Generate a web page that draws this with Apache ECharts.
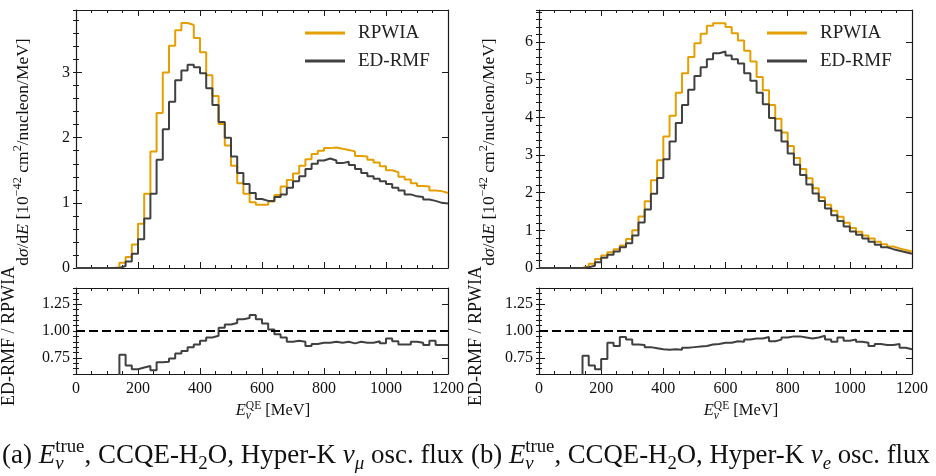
<!DOCTYPE html>
<html><head><meta charset="utf-8">
<script src="https://cdn.jsdelivr.net/npm/echarts@6/dist/echarts.min.js"></script>
<style>html,body{margin:0;padding:0;background:#fff}#c{width:936px;height:476px}</style>
</head><body><div id="c"></div>
<script>
// ---------------- data (bin lower edges in MeV, 20 MeV bins) ----------------
const binEdges = [0,20,40,60,80,100,120,140,160,180,200,220,240,260,280,300,320,340,360,380,400,420,440,460,480,500,520,540,560,580,600,620,640,660,680,700,720,740,760,780,800,820,840,860,880,900,920,940,960,980,1000,1020,1040,1060,1080,1100,1120,1140,1160,1180,1200];
// (a) Hyper-K nu_mu osc. flux
const numuRPWIA = [0,0,0,0,0,0,0.01,0.08,0.17,0.36,0.68,1.14,1.79,2.38,3.00,3.41,3.65,3.76,3.73,3.53,3.31,2.96,2.64,2.21,1.88,1.57,1.30,1.14,1.01,0.97,0.97,1.02,1.12,1.25,1.35,1.45,1.57,1.67,1.75,1.80,1.84,1.85,1.83,1.81,1.79,1.72,1.71,1.66,1.62,1.56,1.50,1.47,1.40,1.36,1.30,1.26,1.25,1.19,1.18,1.15];
const numuEDRMF = [0,0,0,0,0,0,0,0.03,0.10,0.22,0.44,0.76,1.14,1.66,2.13,2.55,2.88,3.03,3.12,3.08,2.99,2.76,2.50,2.24,2.00,1.71,1.46,1.29,1.15,1.06,1.03,1.03,1.09,1.13,1.23,1.33,1.41,1.52,1.60,1.65,1.68,1.65,1.61,1.63,1.58,1.52,1.46,1.41,1.37,1.33,1.29,1.23,1.19,1.13,1.10,1.09,1.05,1.03,1.00,0.99];
const numuRatio = [null,null,null,null,null,null,0,0.78,0.68,0.645,0.66,0.675,0.635,0.71,0.715,0.745,0.79,0.815,0.85,0.875,0.91,0.94,0.955,1.03,1.06,1.075,1.11,1.12,1.15,1.11,1.07,1.015,0.97,0.94,0.90,0.91,0.90,0.86,0.88,0.89,0.89,0.90,0.89,0.90,0.885,0.90,0.89,0.89,0.905,0.885,0.93,0.905,0.875,0.875,0.90,0.89,0.87,0.91,0.87,0.87];
// (b) Hyper-K nu_e osc. flux
const nueRPWIA = [0,0,0,0,0,0,0,0.04,0.11,0.24,0.33,0.42,0.50,0.60,0.77,1.00,1.37,1.77,2.33,2.86,3.49,4.04,4.65,5.17,5.60,5.97,6.22,6.43,6.50,6.50,6.40,6.23,6.04,5.77,5.48,5.07,4.72,4.33,3.96,3.60,3.24,2.92,2.63,2.38,2.12,1.88,1.68,1.52,1.36,1.20,1.06,0.96,0.86,0.78,0.70,0.63,0.57,0.52,0.48,0.44];
const nueEDRMF = [0,0,0,0,0,0,0,0.02,0.06,0.15,0.27,0.35,0.44,0.55,0.66,0.86,1.21,1.55,1.97,2.39,2.89,3.36,3.85,4.33,4.73,5.10,5.33,5.54,5.70,5.75,5.64,5.54,5.43,5.17,4.97,4.65,4.35,3.98,3.65,3.36,3.04,2.74,2.47,2.22,1.98,1.78,1.58,1.40,1.25,1.10,0.97,0.88,0.78,0.70,0.62,0.55,0.50,0.46,0.42,0.38];
const nueRatio = [null,null,null,null,null,null,0,0.77,0.68,0.645,0.74,0.89,0.86,0.945,0.92,0.875,0.87,0.85,0.84,0.83,0.825,0.83,0.825,0.845,0.85,0.855,0.86,0.875,0.88,0.89,0.89,0.905,0.90,0.92,0.93,0.93,0.945,0.905,0.92,0.94,0.95,0.95,0.94,0.93,0.94,0.955,0.92,0.90,0.94,0.91,0.92,0.90,0.89,0.86,0.88,0.87,0.87,0.88,0.845,0.83];
// tick labels
const xTicks = [0,200,400,600,800,1000,1200];
const yTicksNumu = [0,1,2,3];
const yTicksNue = [0,1,2,3,4,5,6];
const ratioTicks = [0.75,1.00,1.25];
const seriesNames = ['RPWIA','ED-RMF'];

// ---------------- styling ----------------
const FONT = 'Liberation Serif';
const FRAME = '#1a1a1a';
const ORANGE = '#E69F00';
const DARK = '#404040';

const chart = echarts.init(document.getElementById('c'), null, {renderer:'canvas'});

const grids = [
  {left:76, top:10, width:372, height:258},
  {left:76, top:288, width:372, height:86},
  {left:539, top:10, width:373, height:258},
  {left:539, top:288, width:373, height:86}
];
const xAxis = [], yAxis = [];
function addX(gi, labels){
  const b = xAxis.length;
  for (const pos of ['bottom','top']) {
    xAxis.push({type:'value', gridIndex:gi, min:0, max:1200, interval:200, position:pos,
      axisLine:{show:true, onZero:false, lineStyle:{color:FRAME, width:1.2}},
      axisTick:{show:true, inside:true, length:6, lineStyle:{color:FRAME, width:1}},
      minorTick:{show:true, splitNumber:4, length:3, lineStyle:{color:FRAME, width:1}},
      axisLabel:{show: labels && pos==='bottom', customValues:xTicks, formatter:v=>String(Math.round(v)), color:'#111', fontFamily:FONT, fontSize:16, margin:7},
      splitLine:{show:false}, minorSplitLine:{show:false}});
  }
  return b;
}
function addY(gi, min, max, ticks, minorInt, fmt){
  const b = yAxis.length;
  for (const pos of ['left','right']) {
    yAxis.push({type:'value', gridIndex:gi, min:min, max:max, position:pos,
      axisLine:{show:true, onZero:false, lineStyle:{color:FRAME, width:1.2}},
      axisTick:{show:true, inside:true, length:6, customValues:ticks, lineStyle:{color:FRAME, width:1}},
      axisLabel:{show: pos==='left', customValues:ticks, formatter:fmt, color:'#111', fontFamily:FONT, fontSize:16, margin:6},
      splitLine:{show:false}});
    yAxis.push({type:'value', gridIndex:gi, min:min, max:max, interval:minorInt, position:pos,
      axisLine:{show:false},
      axisTick:{show:true, inside:true, length:3, lineStyle:{color:FRAME, width:1}},
      axisLabel:{show:false}, splitLine:{show:false}});
  }
  return b;
}
const intFmt = v => String(Math.round(v));
const ratFmt = v => Number(v).toFixed(2);

const xa0 = addX(0,false), ya0 = addY(0, 0, 3.96, yTicksNumu, 0.2, intFmt);
const xa1 = addX(1,true),  ya1 = addY(1, 0.6, 1.4, ratioTicks, 0.05, ratFmt);
const xa2 = addX(2,false), ya2 = addY(2, 0, 6.85, yTicksNue, 0.2, intFmt);
const xa3 = addX(3,true),  ya3 = addY(3, 0.6, 1.4, ratioTicks, 0.05, ratFmt);

function steps(vals){ return binEdges.map((e,i)=>[e, vals[Math.min(i, vals.length-1)]]); }
function histSeries(name, xi, yi, vals, color){
  return {type:'line', name:name, xAxisIndex:xi, yAxisIndex:yi, data:steps(vals), step:'end',
    symbol:'none', showSymbol:false, clip:true, animation:false,
    lineStyle:{color:color, width:2}, itemStyle:{color:color}};
}
function ratioSeries(xi, yi, vals){
  const s = histSeries('ratio', xi, yi, vals, DARK);
  s.markLine = {silent:true, symbol:'none', animation:false, label:{show:false},
    lineStyle:{color:'#000', type:[9,4], width:2}, data:[{yAxis:1}]};
  return s;
}
const series = [
  histSeries(seriesNames[0], xa0, ya0, numuRPWIA, ORANGE),
  histSeries(seriesNames[1], xa0, ya0, numuEDRMF, DARK),
  ratioSeries(xa1, ya1, numuRatio),
  histSeries(seriesNames[0], xa2, ya2, nueRPWIA, ORANGE),
  histSeries(seriesNames[1], xa2, ya2, nueEDRMF, DARK),
  ratioSeries(xa3, ya3, nueRatio)
];

function legendAt(left){
  return {show:true, left:left, top:23, orient:'vertical', icon:'rect', itemWidth:40, itemHeight:3, itemGap:8, padding:0,
    selectedMode:false, data:seriesNames.slice(),
    textStyle:{fontFamily:FONT, fontSize:19, lineHeight:20, color:'#222', padding:[0,0,0,8]}};
}

// ---------------- math-like text labels ----------------
const mctx = document.createElement('canvas').getContext('2d');
function fnt(s,it){ return (it?'italic ':'') + s.toFixed(2) + 'px "' + FONT + '"'; }
function tw(t,s,it){ mctx.font = fnt(s,it); return mctx.measureText(t).width; }
// piece: {t, k (size factor), i (italic), r (rise as fraction of base)} ; or {stack:[piece,piece]}
function mathGroup(pieces, opt){
  let base = opt.size;
  function lay(base){
    const items=[]; let x=0;
    for (const p of pieces){
      const list = p.stack ? p.stack : [p];
      let w=0;
      for (const q of list){ const s=base*(q.k||1); items.push({t:q.t, s:s, i:q.i, r:(q.r||0)*base, x:x}); w=Math.max(w, tw(q.t,s,q.i)); }
      x+=w;
    }
    return {items:items, total:x};
  }
  let L = lay(base);
  if (opt.width){ base = base*opt.width/L.total; L = lay(base); }
  const off = opt.align==='center' ? -L.total/2 : 0;
  const children = L.items.map(it=>({type:'text', x:it.x+off, y:-it.r-0.3*it.s, silent:true,
    style:{text:it.t, font:fnt(it.s,it.i), fill:'#111', textAlign:'left', align:'left', textVerticalAlign:'middle', verticalAlign:'middle'}}));
  return {type:'group', x:opt.x, y:opt.y, rotation: opt.rotate ? Math.PI/2 : 0, silent:true, children:children};
}
const SUP = 0.7, SUB = 0.7;
const xLabelPieces = [{t:'E',i:true},{stack:[{t:'QE',k:SUP,r:0.42},{t:'ν',k:SUB,i:true,r:-0.22}]},{t:' [MeV]'}];
const yLabelPieces = [{t:'d'},{t:'σ',i:true},{t:'/d'},{t:'E',i:true},{t:' [10'},{t:'−42',k:SUP,r:0.42},{t:' cm'},{t:'2',k:SUP,r:0.42},{t:'/nucleon/MeV]'}];
const rLabelPieces = [{t:'ED-RMF / RPWIA'}];
function caption(tag, flav){
  return [{t:'('+tag+') '},{t:'E',i:true},{stack:[{t:'true',k:SUP,r:0.42},{t:'ν',k:SUB,i:true,r:-0.22}]},
    {t:', CCQE-H'},{t:'2',k:SUB,r:-0.22},{t:'O, Hyper-K '},{t:'ν',i:true},{t:flav,k:SUB,i:true,r:-0.22},{t:' osc. flux'}];
}
const graphics = [
  mathGroup(xLabelPieces, {x:273, y:416, size:16.5, align:'center'}),
  mathGroup(xLabelPieces, {x:741, y:416, size:16.5, align:'center'}),
  mathGroup(yLabelPieces, {x:29, y:152, size:17.5, align:'center', rotate:true}),
  mathGroup(yLabelPieces, {x:495, y:152, size:17.5, align:'center', rotate:true}),
  mathGroup(rLabelPieces, {x:15, y:336, size:18, align:'center', rotate:true}),
  mathGroup(rLabelPieces, {x:482, y:336, size:18, align:'center', rotate:true}),
  mathGroup(caption('a','μ'), {x:2, y:464, size:17, width:462}),
  mathGroup(caption('b','e'), {x:471, y:464, size:17, width:459})
];

chart.setOption({
  animation:false,
  backgroundColor:'#fff',
  grid:grids,
  xAxis:xAxis,
  yAxis:yAxis,
  legend:[legendAt(305), legendAt(767)],
  series:series,
  graphic:{elements:graphics}
});
</script>
</body></html>
